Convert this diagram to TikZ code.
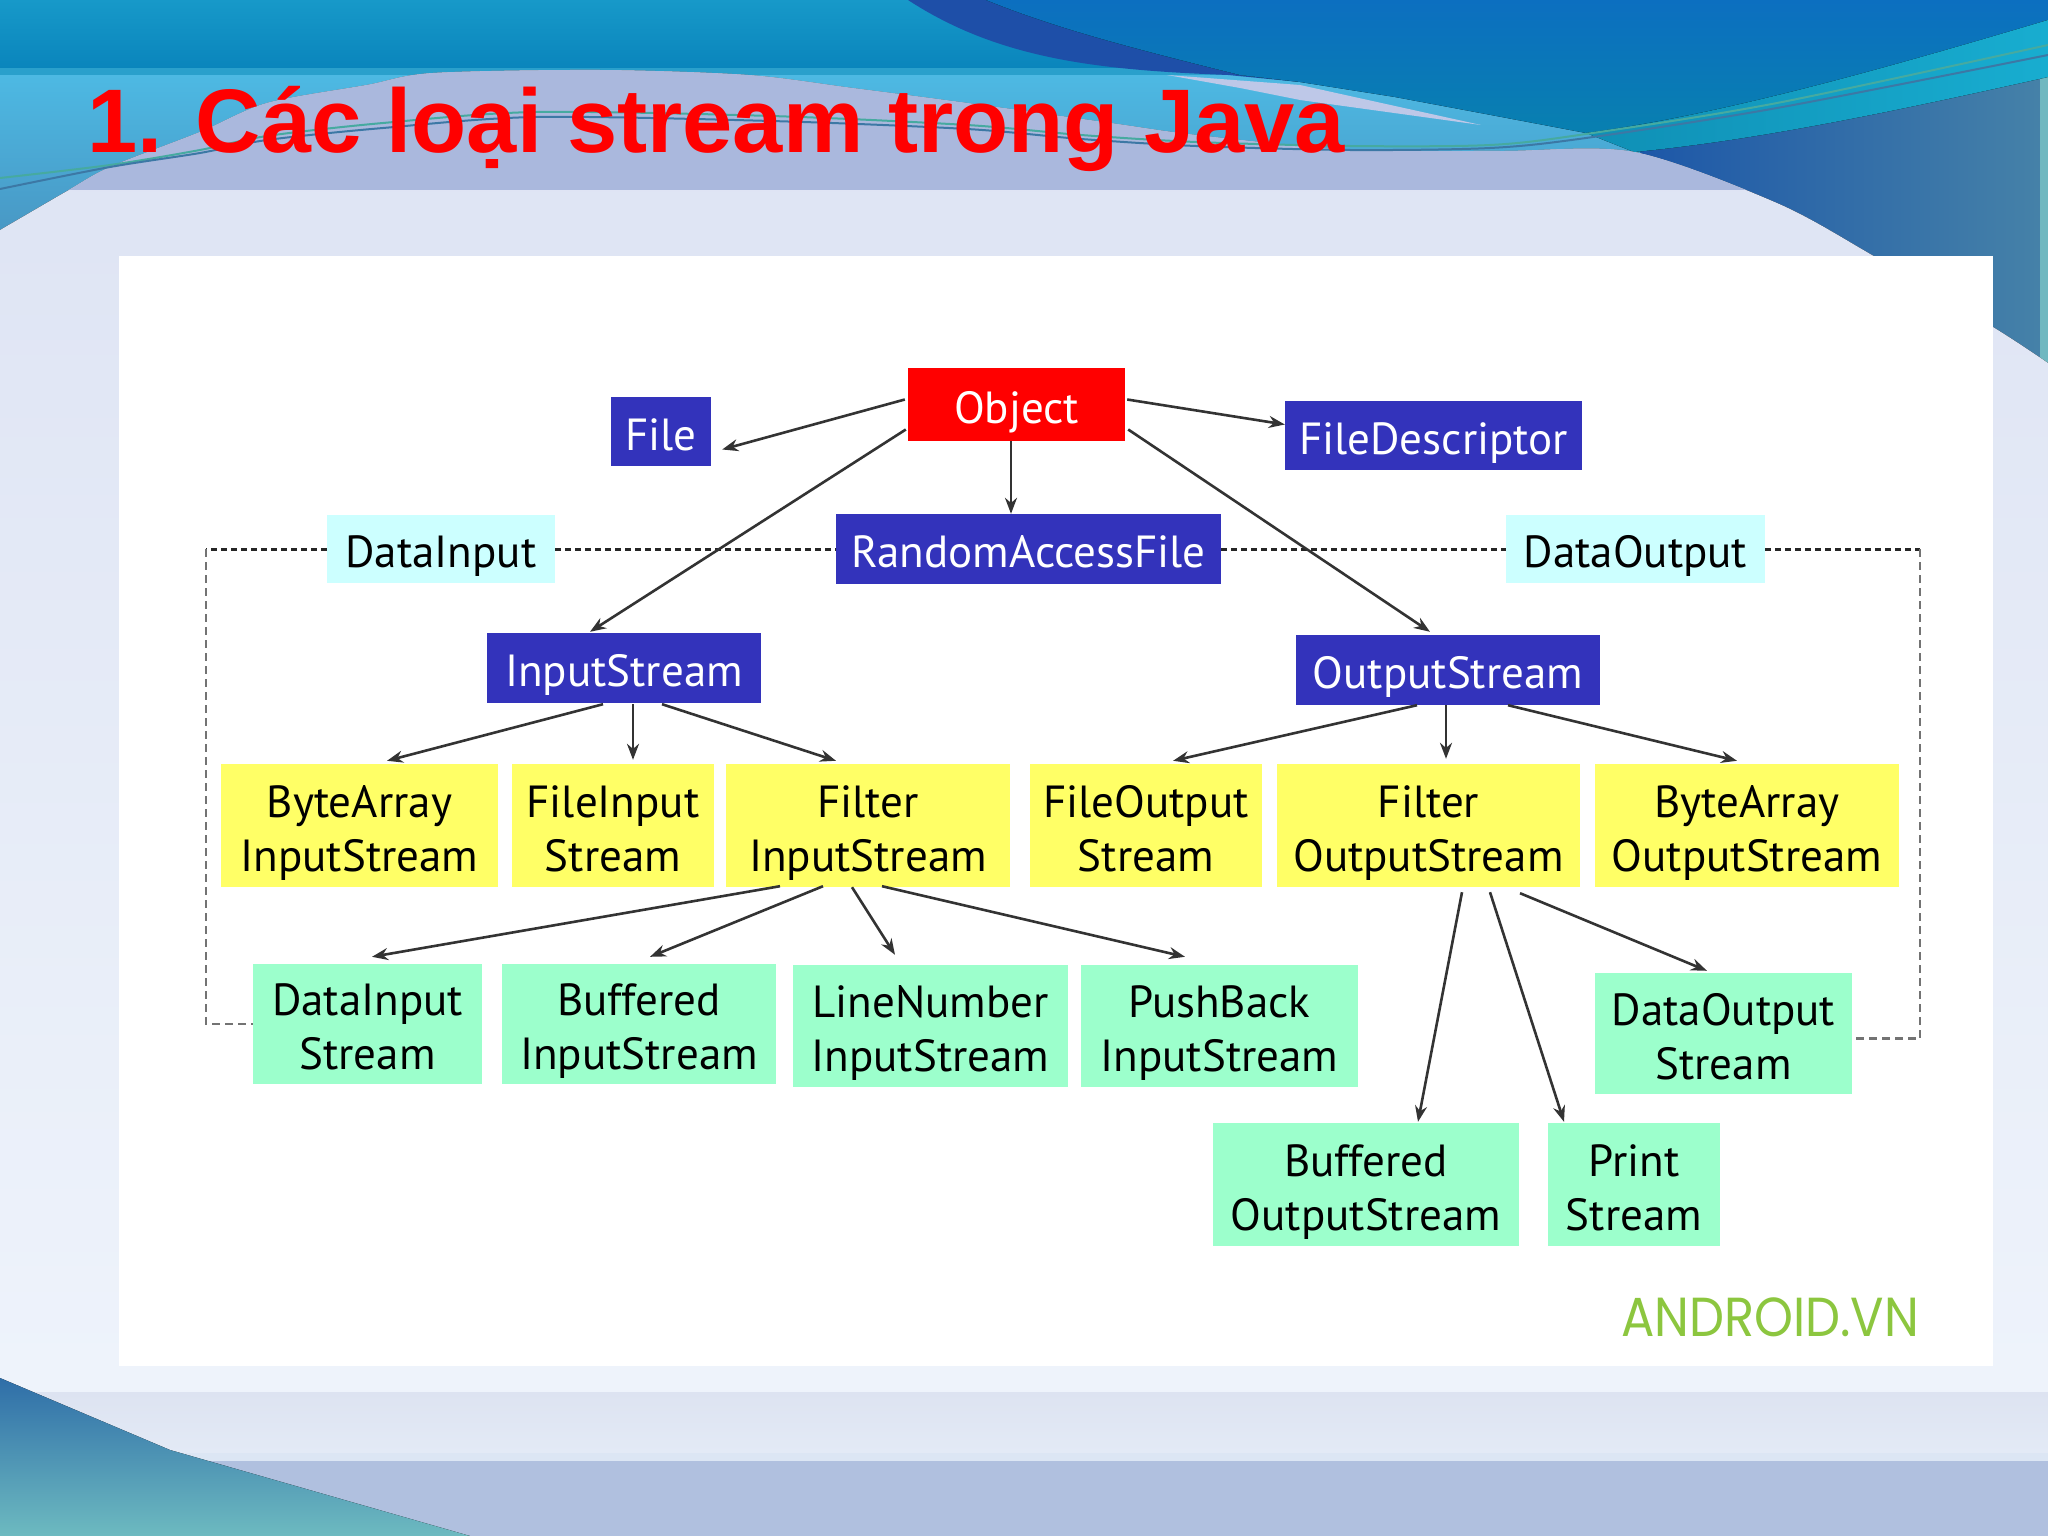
\documentclass[tikz,border=0pt]{standalone}
\usepackage{fontspec}
\usetikzlibrary{arrows.meta}
\setmainfont{PT Sans}
\newfontfamily\titlefont{Liberation Sans}
\newfontfamily\logofont{Poppins}

\definecolor{boxblue}{HTML}{3333BB}
\definecolor{boxred}{HTML}{FF0000}
\definecolor{boxyellow}{HTML}{FFFF66}
\definecolor{boxgreen}{HTML}{9CFFCC}
\definecolor{boxcyan}{HTML}{CCFFFF}
\definecolor{logogreen}{HTML}{8CC63F}
% slide colours
\definecolor{deepa}{HTML}{1D57A8}
\definecolor{deepb}{HTML}{4682A8}
\definecolor{stripteal}{HTML}{70B8C0}
\definecolor{skya}{HTML}{4DB9E3}
\definecolor{skyb}{HTML}{4896C3}
\definecolor{topa}{HTML}{1799C9}
\definecolor{topb}{HTML}{0A85BC}
\definecolor{topline}{HTML}{2AA0CC}
\definecolor{stripe}{HTML}{1E4FA8}
\definecolor{bluea}{HTML}{0C6FC0}
\definecolor{blueb}{HTML}{0880B0}
\definecolor{sweepa}{HTML}{0F8FB5}
\definecolor{sweepb}{HTML}{18ADD0}
\definecolor{palea}{HTML}{DDE3F3}
\definecolor{paleb}{HTML}{F0F5FC}
\definecolor{lavender}{HTML}{AAB8DD}
\definecolor{wedge}{HTML}{BEC8E8}
\definecolor{wavea}{HTML}{46AAA0}
\definecolor{waveb}{HTML}{3C78A5}
\definecolor{banda}{HTML}{EEF3FB}
\definecolor{bandb}{HTML}{DDE3F1}
\definecolor{bandc}{HTML}{E3EAF6}
\definecolor{bandd}{HTML}{DCE6F4}
\definecolor{bande}{HTML}{B0C0DF}
\definecolor{cornera}{HTML}{2F6EA8}
\definecolor{cornerb}{HTML}{6DBAC0}

% pushes a two line label down in its box
\newcommand{\toprise}{\rule{0pt}{50pt}}

\tikzset{
 box/.style={inner sep=0pt, align=center, font=\fontsize{45}{54}\selectfont,
  execute at begin node={\rule{0pt}{50pt}}, execute at end node={\rule[-13pt]{0pt}{0pt}}},
 bluebox/.style={box, fill=boxblue, text=white},
 redbox/.style={box, fill=boxred, text=white},
 yellowbox/.style={box, fill=boxyellow, text=black, minimum height=123pt},
 greenbox/.style={box, fill=boxgreen, text=black},
 cyanbox/.style={box, fill=boxcyan, text=black, minimum height=68pt},
 link/.style={line width=2.6pt, -{Stealth[length=16pt,width=12pt]}, black!80},
 dashlink/.style={line width=3pt, dash pattern=on 6pt off 4pt, black!85},
 graylink/.style={line width=2.5pt, dash pattern=on 8pt off 5pt, black!55},
 hillpath/.style={insert path={(0,1536) -- plot[smooth] coordinates {(0,230) (67,191) (110,167) (200,132) (267,103) (367,85) (433,73) (600,70) (748,75) (852,88) (967,103) (1110,123) (1196,135) (1350,150) (1500,151) (1634,152) (1777,203) (1872,255) (1993,327) (2048,363)} -- (2048,1536) -- cycle}},
}

\begin{document}
\begin{tikzpicture}[x=1pt,y=-1pt]
 \useasboundingbox (0,0) rectangle (2048,1536);

	% Slide background
 \fill[left color=deepa, right color=deepb] (1640,75) rectangle (2048,400);
 \fill[stripteal] (2040,60) rectangle (2048,400);
 \fill[top color=skya, bottom color=skyb] (0,75) rectangle (1640,240);
 \fill[top color=topa, bottom color=topb] (0,0) rectangle (1300,68);
 \fill[topline] (0,68) rectangle (1300,75);

	% Big blue curve, top right
 \fill[stripe] (908,0) .. controls (1000,60) and (1100,70) .. (1228,75) -- (1300,82) -- (1240,75) .. controls (1140,50) and (1060,30) .. (986,0) -- cycle;
 \fill[top color=bluea, bottom color=blueb] (986,0) .. controls (1060,30) and (1140,50) .. (1240,75) -- (1300,82) -- (1395,97) -- (1491,115) -- (1586,133) -- (1777,110) -- (1920,60) -- (2048,20) -- (2048,0) -- cycle;
 \fill[left color=sweepa, right color=sweepb] (1586,133) .. controls (1720,115) and (1880,70) .. (2048,20) -- (2048,77) .. controls (1900,110) and (1760,140) .. (1634,152) -- cycle;

	% Light hill under the title
 \fill[top color=palea, bottom color=paleb, hillpath];
 \begin{scope}
 \clip[hillpath];
 \fill[lavender] (0,60) rectangle (2048,190);
 \end{scope}
 \fill[wedge] (1167,75) -- (1300,85) -- (1481,125) -- (1300,100) -- (1240,88) -- cycle;

	% Thin waves
 \draw[line width=2pt, wavea] plot[smooth] coordinates {(0,178) (110,165) (200,150) (267,136) (383,123) (536,112) (771,116) (967,125) (1081,135) (1196,142) (1350,146) (1490,145) (1586,134) (1777,103) (2048,45)};
 \draw[line width=2pt, waveb] plot[smooth] coordinates {(0,189) (110,167) (200,153) (267,140) (383,128) (536,117) (771,121) (967,129) (1081,139) (1196,146) (1350,150) (1490,148) (1586,138) (1777,108) (2048,55)};

	% Bottom bands
 \fill[banda] (0,1366) rectangle (2048,1392);
 \fill[top color=bandb, bottom color=bandc] (0,1392) rectangle (2048,1453);
 \fill[bandd] (0,1453) rectangle (2048,1461);
 \fill[bande] (0,1461) rectangle (2048,1536);
 \fill[top color=cornera, bottom color=cornerb] (0,1378) -- (170,1450) -- (470,1536) -- (0,1536) -- cycle;

	% White panel
 \fill[white] (119,256) rectangle (1993,1366);

	% Title
 \node[anchor=base west, inner sep=0pt, text=boxred, font=\titlefont\bfseries\fontsize{90.3}{92}\selectfont] (title) at (87,153) {1. Các loại stream trong Java};

	% Top classes
 \node[redbox, minimum width=217pt, minimum height=73pt] (object) at (1016.5,404.5) {Object};
 \node[bluebox, minimum width=100pt, minimum height=69pt] (file) at (661,431.5) {File};
 \node[bluebox, minimum width=297pt, minimum height=69pt] (fd) at (1433.5,435.5) {FileDescriptor};
 \node[bluebox, minimum width=385pt, minimum height=70pt] (raf) at (1028.5,549) {RandomAccessFile};
 \node[cyanbox, minimum width=228pt] (datain) at (441,549) {DataInput};
 \node[cyanbox, minimum width=259pt] (dataout) at (1635.5,549) {DataOutput};
 \node[bluebox, minimum width=274pt, minimum height=70pt] (instream) at (624,668) {InputStream};
 \node[bluebox, minimum width=304pt, minimum height=70pt] (outstream) at (1448,670) {OutputStream};

	% Yellow row
 \node[yellowbox, minimum width=277pt] (bain) at (359.5,825.5) {\toprise ByteArray\\InputStream};
 \node[yellowbox, minimum width=202pt] (fin) at (613,825.5) {\toprise FileInput\\Stream};
 \node[yellowbox, minimum width=284pt] (fltin) at (868,825.5) {\toprise Filter\\InputStream};
 \node[yellowbox, minimum width=232pt] (fout) at (1146,825.5) {\toprise FileOutput\\Stream};
 \node[yellowbox, minimum width=303pt] (fltout) at (1428.5,825.5) {\toprise Filter\\OutputStream};
 \node[yellowbox, minimum width=304pt] (baout) at (1747,825.5) {\toprise ByteArray\\OutputStream};

	% Green rows
 \node[greenbox, minimum width=229pt, minimum height=120pt] (dis) at (367.5,1024) {\toprise DataInput\\Stream};
 \node[greenbox, minimum width=274pt, minimum height=120pt] (bis) at (639,1024) {\toprise Buffered\\InputStream};
 \node[greenbox, minimum width=275pt, minimum height=122pt] (lnis) at (930.5,1026) {\toprise LineNumber\\InputStream};
 \node[greenbox, minimum width=277pt, minimum height=122pt] (pbis) at (1219.5,1026) {\toprise PushBack\\InputStream};
 \node[greenbox, minimum width=257pt, minimum height=121pt] (dos) at (1723.5,1033.5) {\toprise DataOutput\\Stream};
 \node[greenbox, minimum width=306pt, minimum height=123pt] (bos) at (1366,1184.5) {\toprise Buffered\\OutputStream};
 \node[greenbox, minimum width=172pt, minimum height=123pt] (prs) at (1634,1184.5) {\toprise Print\\Stream};

	% Logo
 \node[inner sep=0pt, text=logogreen, font=\logofont\fontsize{55}{55}\selectfont] (logo) at (1770,1317) {\scalebox{0.9}[1]{ANDROID.VN}};

	% Dashed interface lines
 \coordinate (cornerl) at (206,549);
 \coordinate (cornerr) at (1920,549);
 \draw[dashlink] (datain.east) -- (raf.west);
 \draw[dashlink] (raf.east) -- (dataout.west);
 \draw[dashlink] (datain.west) -- (cornerl);
 \draw[dashlink] (dataout.east) -- (cornerr);
 \draw[graylink] (cornerl) |- (dis.west);
 \draw[graylink] (cornerr) |- ([shift={(0,5)}]dos.east);

	% Links from Object
 \draw[link] ([shift={(-3,-5)}]object.west) -- ([shift={(11,18)}]file.east);
 \draw[link] ([shift={(2,-5)}]object.east) -- ([shift={(0,-11)}]fd.west);
 \draw[link] ([shift={(-5.5,0)}]object.south) -- ([shift={(-17.5,0)}]raf.north);
 \draw[link] ([shift={(-2,25)}]object.west) -- ([shift={(-34,-1)}]instream.north);
 \draw[link] ([shift={(3,25)}]object.east) -- ([shift={(-18,-3)}]outstream.north);

	% Links from the streams
 \draw[link] ([shift={(-21,1)}]instream.south) -- ([shift={(27.5,-3)}]bain.north);
 \draw[link] ([shift={(9,1)}]instream.south) -- ([shift={(20,-4)}]fin.north);
 \draw[link] ([shift={(38,1)}]instream.south) -- ([shift={(-32,-3)}]fltin.north);
 \draw[link] ([shift={(-31,0)}]outstream.south) -- ([shift={(27,-3)}]fout.north);
 \draw[link] ([shift={(-2,0)}]outstream.south) -- ([shift={(17.5,-5)}]fltout.north);
 \draw[link] ([shift={(60,0)}]outstream.south) -- ([shift={(-10,-3)}]baout.north);

	% Links from the filters
 \draw[link] ([shift={(-88,-1)}]fltin.south) -- ([shift={(4.5,-7)}]dis.north);
 \draw[link] ([shift={(-45,-1)}]fltin.south) -- ([shift={(11,-7)}]bis.north);
 \draw[link] ([shift={(-16,0)}]fltin.south) -- ([shift={(-35.5,-10)}]lnis.north);
 \draw[link] ([shift={(14,-1)}]fltin.south) -- ([shift={(-34.5,-8)}]pbis.north);
 \draw[link] ([shift={(33.5,5)}]fltout.south) -- ([shift={(52,-1)}]bos.north);
 \draw[link] ([shift={(61.5,5)}]fltout.south) -- ([shift={(-70,-1)}]prs.north);
 \draw[link] ([shift={(91.5,6)}]fltout.south) -- ([shift={(-16.5,-2)}]dos.north);

\end{tikzpicture}
\end{document}
